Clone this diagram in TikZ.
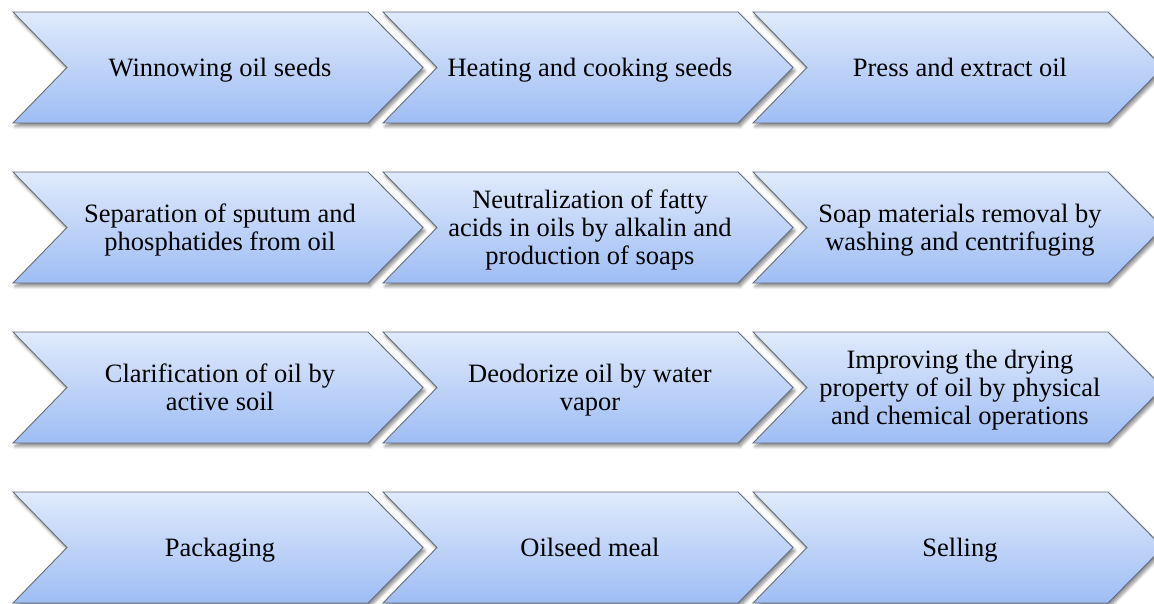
\documentclass[tikz,border=0pt]{standalone}
\usepackage{fontspec}
\setmainfont{Liberation Serif}
\usetikzlibrary{shadows.blur}
\definecolor{chevtop}{RGB}{224,234,252}
\definecolor{chevbot}{RGB}{158,189,244}
\definecolor{chevline}{RGB}{100,110,125}
\newcommand\chevtext[2]{\raisebox{0pt}[\dimexpr 17.5pt+#1\relax][0pt]{\begin{tabular}[b]{@{}c@{}}#2\end{tabular}}}
\tikzset{
  chev/.style={draw=chevline, line width=0.9pt, top color=chevtop, bottom color=chevbot,
    blur shadow={shadow xshift=2pt, shadow yshift=-3.5pt, shadow blur steps=6, shadow blur radius=3pt, shadow opacity=45}},
  lbl/.style={font=\fontsize{26.5}{28}\selectfont, text=black, inner sep=0pt}
}
\begin{document}
\begin{tikzpicture}[x=1pt,y=-1pt]
\useasboundingbox (0,0) rectangle (1154,604);
\clip (0,0) rectangle (1154,604);
\foreach \r in {0,1,2,3} {
  \foreach \c in {0,1,2} {
    \pgfmathsetmacro\L{13+370*\c}
    \pgfmathsetmacro\T{12+160*\r}
    \path[chev] (\L,\T) -- ++(355,0) -- ++(55,55.5) -- ++(-55,55.5) -- ++(-355,0) -- ++(54,-55.5) -- cycle;
  }
}
\node[lbl] (w1) at (220,67.5) {\chevtext{0pt}{Winnowing oil seeds}};
\node[lbl] (w2) at (590,67.5) {\chevtext{0pt}{Heating and cooking seeds}};
\node[lbl] (w3) at (960,67.5) {\chevtext{0pt}{Press and extract oil}};
\node[lbl] (s1) at (220,227.5) {\chevtext{28pt}{Separation of sputum and\\phosphatides from oil}};
\node[lbl] (s2) at (590,227.5) {\chevtext{56pt}{Neutralization of fatty\\acids in oils by alkalin and\\production of soaps}};
\node[lbl] (s3) at (960,227.5) {\chevtext{28pt}{Soap materials removal by\\washing and centrifuging}};
\node[lbl] (c1) at (220,387.5) {\chevtext{28pt}{Clarification of oil by\\active soil}};
\node[lbl] (c2) at (590,387.5) {\chevtext{28pt}{Deodorize oil by water\\vapor}};
\node[lbl] (c3) at (960,387.5) {\chevtext{56pt}{Improving the drying\\property of oil by physical\\and chemical operations}};
\node[lbl] (p1) at (220,547.5) {\chevtext{0pt}{Packaging}};
\node[lbl] (p2) at (590,547.5) {\chevtext{0pt}{Oilseed meal}};
\node[lbl] (p3) at (960,547.5) {\chevtext{0pt}{Selling}};
\end{tikzpicture}
\end{document}
